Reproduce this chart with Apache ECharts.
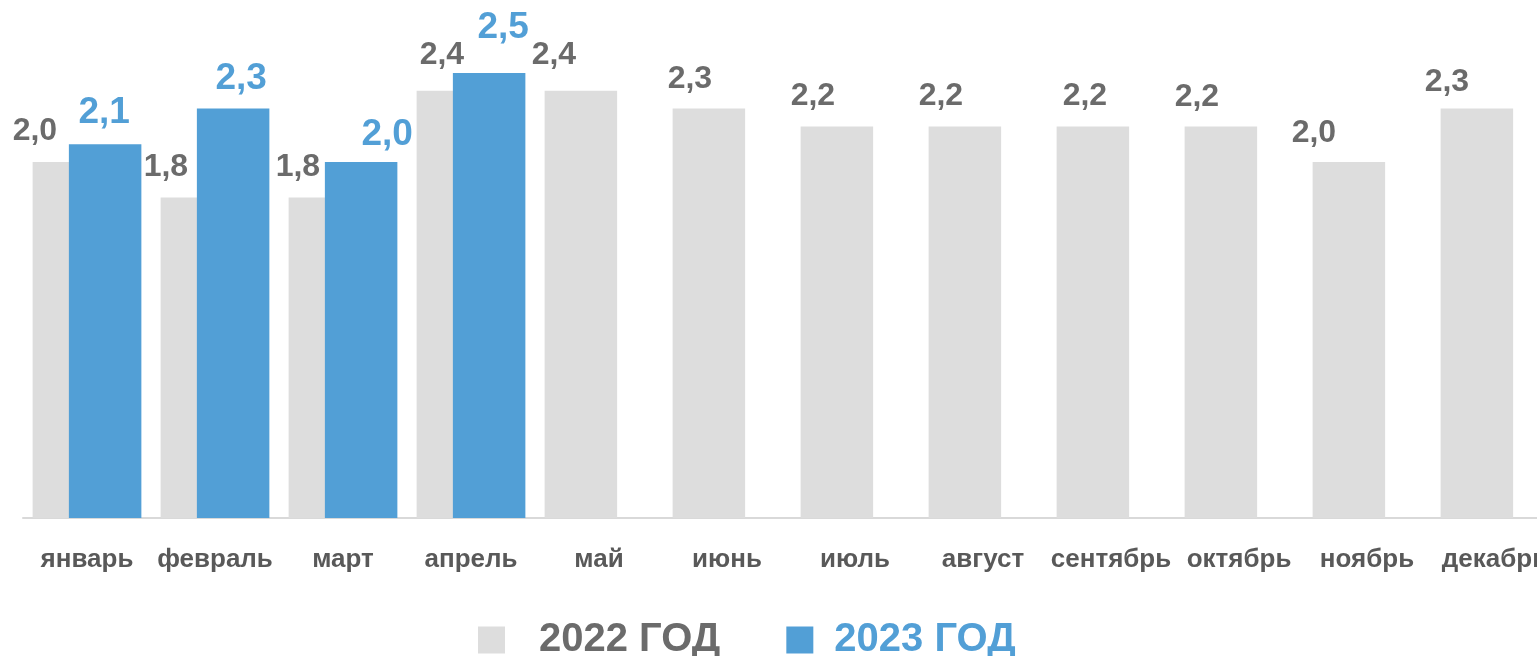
<!DOCTYPE html>
<html>
<head>
<meta charset="utf-8">
<script src="https://cdn.jsdelivr.net/npm/echarts@6/dist/echarts.min.js"></script>
<style>
  html, body { margin: 0; padding: 0; background: #fff; }
  #main { width: 1537px; height: 656px; }
</style>
</head>
<body>
<div id="main"></div>
<script>
var chartDom = document.getElementById('main');
var myChart = echarts.init(chartDom);
var option;

// data
const months = ['январь', 'февраль', 'март', 'апрель', 'май', 'июнь',
    'июль', 'август', 'сентябрь', 'октябрь', 'ноябрь', 'декабрь'];
const values2022 = [2.0, 1.8, 1.8, 2.4, 2.4, 2.3, 2.2, 2.2, 2.2, 2.2, 2.0, 2.3];
const values2023 = [2.1, 2.3, 2.0, 2.5];
const seriesNames = ['2022 ГОД', '2023 ГОД'];

// label nudges (style only), as placed in the original
const grayLabelShift = [[-34, -10], [-31, -9], [-27, -9], [-11, -15], [-27, -15], [-19, -8],
    [-24, -9], [-24, -9], [-8, -9], [-24, -8], [-35, -8], [-30, -5]];
const blueLabelShift = [[-1, -8], [8, -6], [26, -4], [14, -22]];

const grayColor = '#dddddd';
const blueColor = '#529fd6';
const fmt = function (p) { return p.value.toFixed(1).replace('.', ','); };

option = {
    animation: false,
    textStyle: { fontFamily: 'Liberation Sans, Arial, sans-serif' },
    grid: {
        left: 23,
        width: 1536,
        top: 73,
        bottom: 138,
        outerBoundsMode: 'none'
    },
    legend: {
        left: 473,
        top: 613,
        itemWidth: 27,
        itemHeight: 27,
        itemGap: 66,
        icon: 'rect',
        textStyle: {
            fontSize: 40,
            fontWeight: 'bold',
            lineHeight: 44
        },
        data: [
            { name: seriesNames[0], textStyle: { color: '#6b6b6b', padding: [0, 0, 0, 29] } },
            { name: seriesNames[1], textStyle: { color: blueColor, padding: [0, 0, 0, 16] } }
        ]
    },
    xAxis: {
        type: 'category',
        data: months,
        axisLine: { lineStyle: { color: '#d9d9d9', width: 2 } },
        axisTick: { show: false },
        axisLabel: {
            color: '#595959',
            fontSize: 26,
            fontWeight: 'bold',
            margin: 29,
            interval: 0
        }
    },
    yAxis: {
        type: 'value',
        min: 0,
        max: 2.5,
        show: false,
        splitLine: { show: false }
    },
    series: [
        {
            name: seriesNames[0],
            type: 'bar',
            barWidth: 72.5,
            barGap: '-50%',
            itemStyle: { color: grayColor },
            data: values2022.map(function (v, i) {
                return {
                    value: v,
                    label: { offset: grayLabelShift[i] }
                };
            }),
            label: {
                show: true,
                position: 'top',
                formatter: fmt,
                color: '#6b6b6b',
                fontSize: 32,
                fontWeight: 'bold'
            }
        },
        {
            name: seriesNames[1],
            type: 'bar',
            barWidth: 72.5,
            barGap: '-50%',
            itemStyle: { color: blueColor },
            data: values2023.map(function (v, i) {
                return {
                    value: v,
                    label: { offset: blueLabelShift[i] }
                };
            }),
            label: {
                show: true,
                position: 'top',
                formatter: fmt,
                color: blueColor,
                fontSize: 37,
                fontWeight: 'bold'
            }
        }
    ]
};

option && myChart.setOption(option);
</script>
</body>
</html>
